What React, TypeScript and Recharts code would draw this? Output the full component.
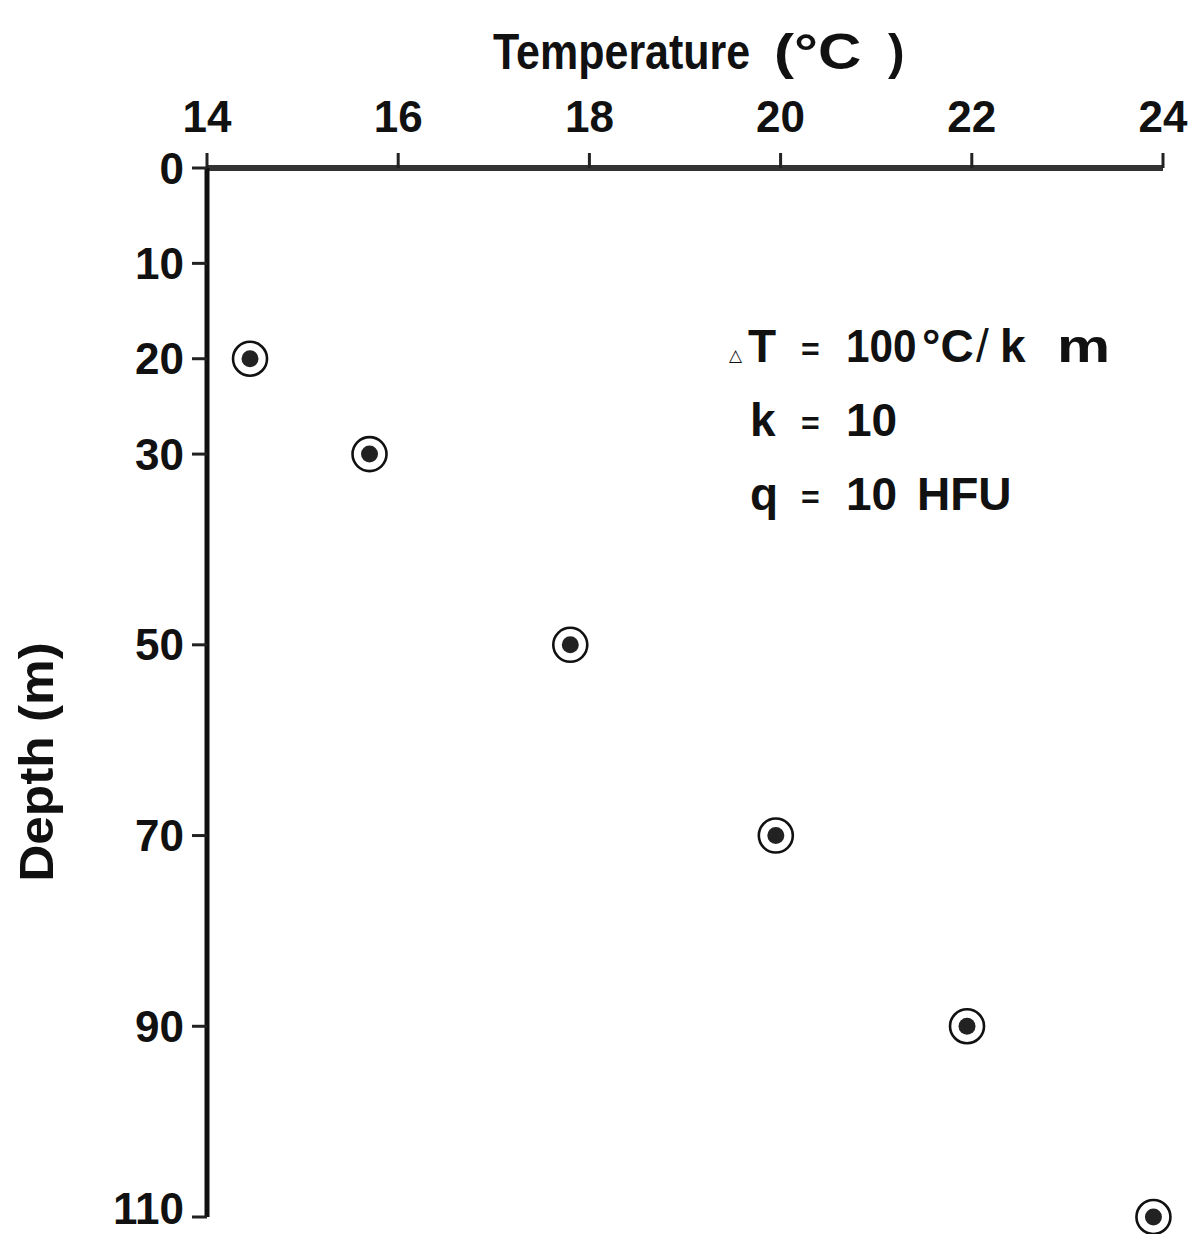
import React from "react";
import { ScatterChart, Scatter, XAxis, YAxis } from "recharts";

const temperatures = [14.45, 15.7, 17.8, 19.95, 21.95, 23.9];
const depths = [20, 30, 50, 70, 90, 110];
const tempTicks = [14, 16, 18, 20, 22, 24];
const depthTicks = [0, 10, 20, 30, 50, 70, 90, 110];

const data = temperatures.map((t, i) => ({ t, d: depths[i] }));

const FONT = "'Liberation Sans', Arial, Helvetica, sans-serif";

const tickStyle = { fontSize: 44, fontWeight: "bold", fill: "#111", fontFamily: FONT };

// circled dot marker
const Marker = (props: any) => {
  const { cx, cy } = props;
  if (cx == null || cy == null) return null;
  return (
    <g>
      <circle cx={cx} cy={cy} r={17} fill="#fff" stroke="#111" strokeWidth={2.6} />
      <circle cx={cx} cy={cy} r={8.5} fill="#222" />
    </g>
  );
};

const textProps = { fontFamily: FONT, fontWeight: "bold", fill: "#111" } as const;

export default function App() {
  return (
    <div style={{ position: "absolute", left: 0, top: 0, width: 1193, height: 1234, background: "#fff" }}>
      <ScatterChart width={1193} height={1234} margin={{ top: 100, right: 30, bottom: 17, left: 87 }}>
        <XAxis
          type="number"
          dataKey="t"
          orientation="top"
          domain={[14, 24]}
          ticks={tempTicks}
          height={68}
          tickSize={15}
          tickMargin={21}
          axisLine={{ stroke: "#333", strokeWidth: 6 }}
          tickLine={{ stroke: "#222", strokeWidth: 3 }}
          tick={tickStyle}
        />
        <YAxis
          type="number"
          dataKey="d"
          reversed
          domain={[0, 110]}
          ticks={depthTicks}
          width={120}
          tickSize={15}
          tickMargin={8}
          axisLine={{ stroke: "#111", strokeWidth: 5 }}
          tickLine={{ stroke: "#222", strokeWidth: 3 }}
          tick={tickStyle}
        />
        <Scatter data={data} shape={Marker} isAnimationActive={false} />
      </ScatterChart>

      <svg
        width={1193}
        height={1234}
        style={{ position: "absolute", left: 0, top: 0, pointerEvents: "none" }}
      >
        <text transform="translate(493,69) scale(0.86,1)" fontSize={50} {...textProps}>
          Temperature
        </text>
        <text transform="translate(774,69) scale(1.2,1)" fontSize={50} {...textProps}>
          (°C
        </text>
        <text x={888} y={69} fontSize={50} {...textProps}>
          )
        </text>
        <text transform="translate(53,762) rotate(-90) scale(1.07,1)" textAnchor="middle" fontSize={48} {...textProps}>
          Depth (m)
        </text>

        {/* annotation */}
        <text x={729} y={361} fontSize={17} fontFamily="'DejaVu Sans', sans-serif" fill="#111">△</text>
        <text x={748} y={362} fontSize={46} {...textProps}>T</text>
        <text x={801} y={360} fontSize={32} {...textProps}>=</text>
        <text transform="translate(846,362) scale(0.92,1)" fontSize={46} {...textProps}>100</text>
        <text x={922} y={362} fontSize={46} {...textProps}>°C</text>
        <text x={976} y={362} fontSize={46} fontFamily={FONT} fill="#111">/</text>
        <text x={1000} y={362} fontSize={46} {...textProps}>k</text>
        <text transform="translate(1057,362) scale(1.3,1)" fontSize={46} {...textProps}>m</text>

        <text x={750} y={436} fontSize={46} {...textProps}>k</text>
        <text x={801} y={434} fontSize={32} {...textProps}>=</text>
        <text x={846} y={436} fontSize={46} {...textProps}>10</text>

        <text x={750} y={510} fontSize={46} {...textProps}>q</text>
        <text x={801} y={508} fontSize={32} {...textProps}>=</text>
        <text x={846} y={510} fontSize={46} {...textProps}>10</text>
        <text x={917} y={510} fontSize={46} {...textProps}>HFU</text>
      </svg>
    </div>
  );
}
